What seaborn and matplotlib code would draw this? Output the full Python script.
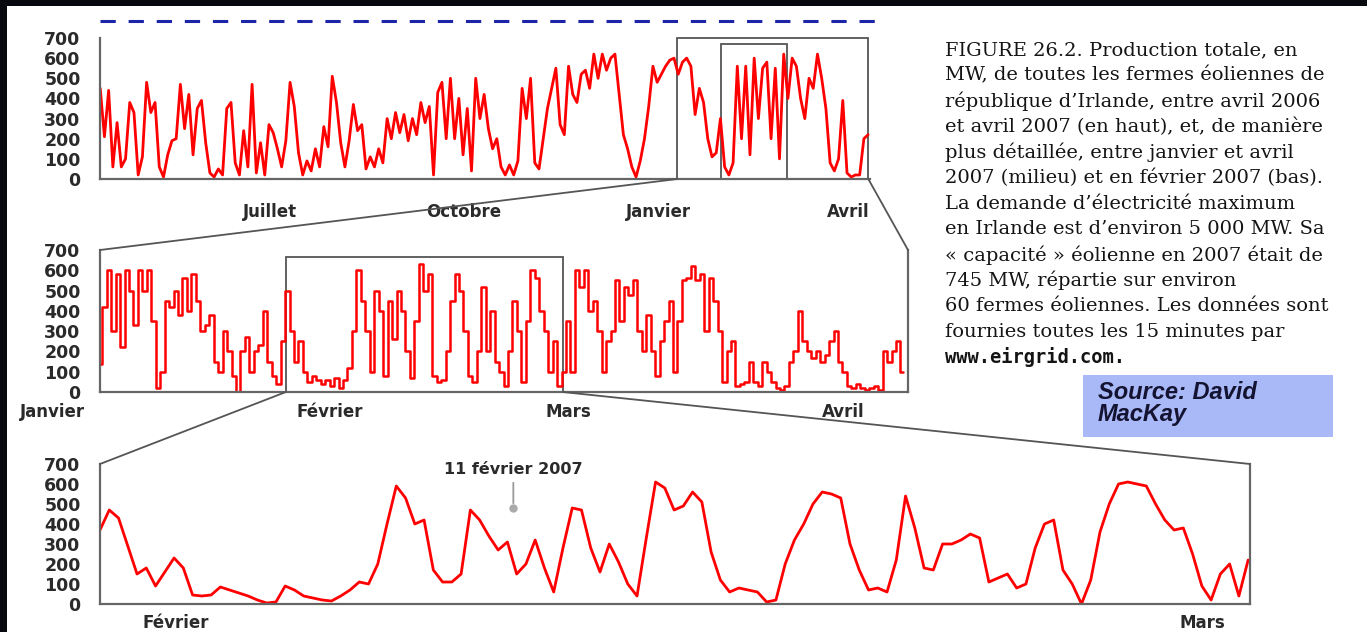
import numpy as np
import matplotlib.pyplot as plt
import pandas as pd
import seaborn as sns
from matplotlib.patches import Rectangle, ConnectionPatch
from matplotlib.lines import Line2D

# wind output (MW)
# x axis = days since 1 January 2007
top_start, top_step = -264.5, 2.0
top_mw = [450, 210, 440, 60, 280, 60, 100, 380, 330, 20,
          110, 480, 330, 380, 60, 10, 120, 190, 200, 470,
          250, 420, 120, 350, 390, 180, 30, 10, 50, 20,
          350, 380, 80, 20, 240, 60, 470, 30, 180, 20,
          270, 230, 150, 60, 190, 480, 360, 130, 20, 90,
          40, 150, 60, 260, 160, 510, 380, 180, 60, 190,
          370, 240, 270, 50, 110, 60, 150, 80, 300, 200,
          330, 230, 320, 190, 300, 220, 380, 280, 360, 20,
          430, 480, 200, 500, 200, 400, 120, 350, 40, 500,
          300, 420, 250, 150, 200, 60, 20, 70, 20, 90,
          450, 300, 500, 80, 50, 200, 350, 450, 550, 270,
          220, 560, 420, 380, 520, 540, 450, 620, 500, 620,
          540, 600, 620, 420, 220, 150, 60, 10, 90, 200,
          360, 560, 480, 520, 560, 590, 600, 520, 580, 600,
          560, 320, 450, 380, 200, 110, 130, 300, 60, 20,
          80, 560, 200, 560, 120, 600, 300, 550, 580, 200,
          550, 100, 620, 400, 600, 560, 400, 300, 500, 450,
          620, 500, 350, 80, 40, 100, 390, 30, 10, 20,
          20, 200, 220]

mid_start, mid_step = 9.0, 0.5
mid_mw = [140, 420, 600, 300, 580, 220, 600, 500, 330, 600,
          500, 600, 350, 20, 100, 450, 420, 500, 380, 560,
          400, 580, 450, 300, 330, 380, 150, 100, 300, 200,
          80, 0, 200, 270, 100, 200, 230, 400, 150, 80,
          40, 250, 500, 300, 150, 250, 100, 50, 80, 60,
          40, 60, 30, 70, 20, 60, 120, 300, 600, 450,
          300, 100, 500, 400, 80, 450, 260, 500, 400, 200,
          70, 350, 630, 500, 580, 80, 50, 60, 200, 450,
          580, 500, 300, 80, 50, 200, 520, 200, 400, 150,
          100, 30, 200, 450, 300, 50, 350, 600, 560, 400,
          300, 100, 250, 30, 100, 350, 100, 600, 520, 600,
          400, 450, 300, 100, 250, 300, 550, 350, 520, 480,
          550, 300, 200, 380, 200, 80, 250, 350, 450, 100,
          350, 550, 560, 620, 550, 580, 300, 560, 450, 300,
          50, 200, 250, 30, 40, 50, 150, 50, 30, 150,
          100, 50, 20, 10, 30, 150, 200, 400, 250, 200,
          170, 200, 150, 180, 250, 300, 150, 100, 30, 20,
          40, 20, 10, 20, 30, 10, 200, 150, 200, 250,
          100]

bot_start, bot_step = 29.84, 0.25
bot_mw = [370, 470, 430, 290, 150, 180, 90, 160, 230, 180,
          45, 40, 45, 85, 70, 55, 40, 20, 5, 10,
          90, 70, 40, 30, 20, 15, 40, 70, 110, 100,
          200, 400, 590, 530, 400, 420, 170, 110, 110, 150,
          470, 420, 340, 270, 310, 150, 200, 320, 180, 60,
          280, 480, 470, 280, 160, 300, 210, 100, 40, 330,
          610, 580, 470, 490, 560, 510, 260, 120, 60, 80,
          70, 60, 10, 20, 200, 320, 400, 500, 560, 550,
          530, 300, 170, 70, 80, 60, 220, 540, 380, 180,
          170, 300, 300, 320, 350, 330, 110, 130, 150, 80,
          100, 280, 400, 420, 170, 100, 0, 120, 360, 500,
          600, 610, 600, 590, 500, 420, 370, 380, 250, 90,
          20, 150, 200, 40, 220]

yticks = [0, 100, 200, 300, 400, 500, 600, 700]
top_months = ['Juillet', 'Octobre', 'Janvier', 'Avril']
top_month_days = [-184, -92, 0, 90]
mid_months = ['Janvier', 'Février', 'Mars', 'Avril']
mid_month_days = [0, 31, 59, 90]
bot_months = ['Février', 'Mars']
bot_month_days = [31, 59]
event_day = 41
event_label = '11 février 2007'

caption_lines = [
    'FIGURE 26.2. Production totale, en',
    'MW, de toutes les fermes éoliennes de',
    'république d\u2019Irlande, entre avril 2006',
    'et avril 2007 (en haut), et, de manière',
    'plus détaillée, entre janvier et avril',
    '2007 (milieu) et en février 2007 (bas).',
    'La demande d\u2019électricité maximum',
    'en Irlande est d\u2019environ 5 000 MW. Sa',
    '« capacité » éolienne en 2007 était de',
    '745 MW, répartie sur environ',
    '60 fermes éoliennes. Les données sont',
    'fournies toutes les 15 minutes par',
]
url_line = 'www.eirgrid.com.'
source_text = 'Source: David\nMacKay'

top_xlim = (-264.6, 100.4)
mid_xlim = (9.0, 99.6)
bot_xlim = (29.84, 60.89)

top_df = pd.DataFrame({'jour': top_start + top_step * np.arange(len(top_mw)), 'mw': top_mw})
mid_df = pd.DataFrame({'jour': mid_start + mid_step * np.arange(len(mid_mw)), 'mw': mid_mw})
bot_df = pd.DataFrame({'jour': bot_start + bot_step * np.arange(len(bot_mw)), 'mw': bot_mw})

sns.set_style('white')
plt.rcParams['font.family'] = ['DejaVu Sans']

W, H = 1372, 632
fig = plt.figure(figsize=(W / 100, H / 100), dpi=100)
ax_top = fig.add_axes([100 / W, 1 - 179 / H, 770 / W, 141 / H])
ax_mid = fig.add_axes([100 / W, 1 - 392 / H, 808 / W, 142 / H])
ax_bot = fig.add_axes([100 / W, 1 - 604 / H, 1150 / W, 140 / H])

axis_grey = '#666666'
txt_col = '#2a2a2a'
red = '#ff0000'

sns.lineplot(data=top_df, x='jour', y='mw', ax=ax_top, color=red, lw=2.0, estimator=None)
sns.lineplot(data=mid_df, x='jour', y='mw', ax=ax_mid, color=red, lw=1.8, estimator=None,
             drawstyle='steps-mid')
sns.lineplot(data=bot_df, x='jour', y='mw', ax=ax_bot, color=red, lw=2.0, estimator=None)


def style_axis(ax, xlim, right=False):
    ax.set_xlim(xlim)
    ax.set_ylim(0, 700)
    ax.set_yticks(yticks)
    ax.set_yticklabels([str(v) for v in yticks], fontsize=12.5, fontweight='bold', color=txt_col)
    ax.set_xlabel('')
    ax.set_ylabel('')
    ax.spines['top'].set_visible(False)
    ax.spines['right'].set_visible(right)
    for s in ['left', 'bottom', 'right']:
        ax.spines[s].set_color(axis_grey)
        ax.spines[s].set_linewidth(1.6)
    ax.tick_params(axis='y', length=8, width=1.5, color=axis_grey, pad=6)
    ax.patch.set_alpha(0)


style_axis(ax_top, top_xlim)
style_axis(ax_mid, mid_xlim, right=True)
style_axis(ax_bot, bot_xlim, right=True)

# top panel: centred month labels
ax_top.set_xticks(top_month_days)
ax_top.set_xticklabels(top_months, fontsize=12, fontweight='bold', color=txt_col)
ax_top.tick_params(axis='x', length=7, width=1.5, color=axis_grey, pad=10)

# middle and bottom panels: daily minor ticks, left-aligned month names
for ax, days, names, lo, hi in [(ax_mid, mid_month_days, mid_months, 10, 100),
                                (ax_bot, bot_month_days, bot_months, 30, 61)]:
    ax.set_xticks([d for d in days if ax.get_xlim()[0] <= d <= ax.get_xlim()[1]])
    ax.set_xticklabels([])
    ax.set_xticks(np.arange(lo, hi), minor=True)
    ax.tick_params(axis='x', which='major', length=7, width=1.8, color='#444444')
    ax.tick_params(axis='x', which='minor', length=4, width=1.0, color=axis_grey)
    for d, name in zip(days, names):
        ax.text(d, -0.075, name, transform=ax.get_xaxis_transform(), ha='left', va='top',
                fontsize=12, fontweight='bold', color=txt_col, clip_on=False)

# zoom boxes and connectors
box_kw = dict(fill=False, ec='#555555', lw=1.3, clip_on=False)
ax_top.add_patch(Rectangle((mid_xlim[0], 0), mid_xlim[1] - mid_xlim[0], 700, **box_kw))
ax_top.add_patch(Rectangle((bot_xlim[0], 0), bot_xlim[1] - bot_xlim[0], 670, **box_kw))
ax_mid.add_patch(Rectangle((bot_xlim[0], 0), bot_xlim[1] - bot_xlim[0], 665, **box_kw))

for xa in mid_xlim:
    fig.add_artist(ConnectionPatch(xyA=(xa, 0), coordsA=ax_top.transData,
                                   xyB=(xa, 700), coordsB=ax_mid.transData,
                                   color='#555555', lw=1.3))
for xa in bot_xlim:
    fig.add_artist(ConnectionPatch(xyA=(xa, 0), coordsA=ax_mid.transData,
                                   xyB=(xa, 700), coordsB=ax_bot.transData,
                                   color='#555555', lw=1.3))

# 11 February marker
ax_bot.annotate('', xy=(event_day, 490), xytext=(event_day, 620),
                arrowprops=dict(arrowstyle='-', color='#999999', lw=1.3))
ax_bot.plot([event_day], [480], 'o', color='#aaaaaa', ms=5)
ax_bot.text(event_day, 675, event_label, ha='center', va='center', fontsize=11.5,
            fontweight='bold', color=txt_col)

# blue dashed line on top
fig.add_artist(Line2D([100 / W, 882 / W], [1 - 21 / H, 1 - 21 / H], color='#1c24a8',
                      lw=2.2, dashes=(5, 4.2), transform=fig.transFigure))

# caption
for i, line in enumerate(caption_lines):
    fig.text(945 / W, 1 - (50 + 25.6 * i) / H, line, ha='left', va='center',
             family='DejaVu Serif', fontsize=14, color='#141414')
fig.text(945 / W, 1 - (50 + 25.6 * len(caption_lines)) / H, url_line, ha='left', va='center',
         family='DejaVu Sans Mono', fontsize=13.5, fontweight='bold', color='#141414')

# source box
fig.add_artist(Rectangle((1083 / W, 1 - 437 / H), 250 / W, 62 / H, transform=fig.transFigure,
                         facecolor='#a9b8f6', edgecolor='none'))
fig.text(1098 / W, 1 - 381 / H, source_text, ha='left', va='top', fontsize=17,
         fontweight='bold', style='italic', family='Liberation Sans', color='#141432',
         linespacing=0.95)

# black frame of the scan (top and left)
fig.add_artist(Rectangle((0, 1 - 6 / H), 1367 / W, 6 / H, transform=fig.transFigure,
                         facecolor='#08080f', edgecolor='none'))
fig.add_artist(Rectangle((0, 0), 7 / W, 1, transform=fig.transFigure,
                         facecolor='#08080f', edgecolor='none'))

fig.savefig('out.png', dpi=100)
